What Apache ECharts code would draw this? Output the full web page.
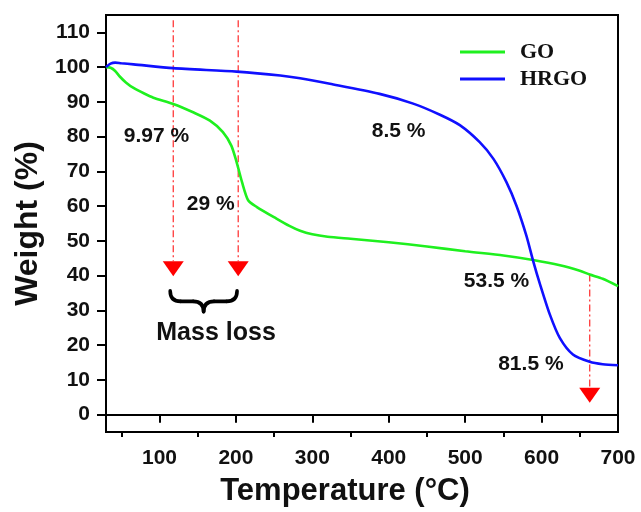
<!DOCTYPE html>
<html>
<head>
<meta charset="utf-8">
<script src="https://cdn.jsdelivr.net/npm/echarts@6/dist/echarts.min.js"></script>
<style>html,body{margin:0;padding:0;background:#fff;}#c{width:641px;height:512px;}</style>
</head>
<body>
<div id="c"></div>
<script>
// ---- data ----
const goTemp   = [30, 36, 42, 48, 56, 66, 80, 92, 118, 144, 166, 183, 194, 201, 208, 216, 227, 253, 270, 284, 300, 320, 350, 400, 450, 500, 550, 589, 624, 650, 663, 680, 700];
const goWeight = [100, 99.8, 98.9, 97.3, 95.6, 94.0, 92.4, 91.2, 89.4, 87.0, 84.6, 81.3, 77.4, 72.6, 66.9, 61.7, 59.8, 56.4, 54.3, 52.9, 51.9, 51.2, 50.6, 49.6, 48.4, 47.0, 45.8, 44.5, 43.0, 41.4, 40.3, 39.1, 37.0];
const hrgoTemp   = [30, 36, 42, 50, 66, 118, 201, 258, 284, 323, 388, 432, 467, 493, 519, 537, 554, 567, 580, 589, 598, 611, 624, 641, 663, 680, 700];
const hrgoWeight = [100, 101.0, 101.3, 101.1, 100.8, 99.7, 98.7, 97.6, 96.8, 95.2, 92.3, 89.5, 86.3, 83.3, 78.4, 73.6, 66.9, 60.2, 51.6, 44.2, 37.5, 28.7, 22.0, 17.3, 15.2, 14.5, 14.2];

const xTicks = [100, 200, 300, 400, 500, 600, 700];
const xMinorTicks = [50, 150, 250, 350, 450, 550, 650];
const yTicks = [0, 10, 20, 30, 40, 50, 60, 70, 80, 90, 100, 110];

const noteTexts = ['9.97 %', '29 %', '8.5 %', '53.5 %', '81.5 %', 'Mass loss'];
const noteX     = [96, 167, 413, 541, 586, 174];
const noteY     = [80.2, 60.5, 81.7, 38.3, 14.4, 23.4];

const arrowX   = [118, 203, 663];
const arrowTop = [113.5, 113.5, 40.3];
const arrowTip = [39.8, 39.8, 3.4];

const braceFrom = 114, braceTo = 201.5, braceTopY = 35.6, braceCuspY = 29.6;

// ---- build ----
const zip = (a, b) => a.map((v, i) => [v, b[i]]);
const SANS = '"Liberation Sans", Arial, sans-serif';

const chart = echarts.init(document.getElementById('c'), null, {renderer: 'canvas'});
chart.setOption({
  animation: false,
  backgroundColor: '#fff',
  grid: {left: 106, right: 23, top: 15, bottom: 78, show: true, borderColor: '#000', borderWidth: 2},
  legend: {
    orient: 'vertical', left: 455, top: 36, itemWidth: 45, itemHeight: 3, itemGap: 5,
    icon: 'rect',
    data: [{name: 'GO', itemStyle: {color: '#1ff01f'}}, {name: 'HRGO', itemStyle: {color: '#1010ff'}}],
    textStyle: {fontFamily: '"Liberation Serif", "Times New Roman", serif', fontWeight: 'bold', fontSize: 22, lineHeight: 22, color: '#111', padding: [0, 0, 0, 10]}
  },
  xAxis: [{
    type: 'value', min: 30, max: 700,
    name: 'Temperature (°C)', nameLocation: 'middle', nameGap: 44,
    nameTextStyle: {fontFamily: SANS, fontWeight: 'bold', fontSize: 31, color: '#111', padding: [0, 34, 0, 0]},
    axisLine: {show: true, lineStyle: {color: '#000', width: 2}},
    axisTick: {show: true, inside: false, length: 8, lineStyle: {color: '#000', width: 2}, customValues: xTicks},
    axisLabel: {show: true, margin: 16, fontFamily: SANS, fontWeight: 'bold', fontSize: 21, color: '#111', customValues: xTicks},
    splitLine: {show: false}
  }, {
    type: 'value', min: 30, max: 700, position: 'bottom',
    axisLine: {show: false},
    axisTick: {show: true, inside: false, length: 5, lineStyle: {color: '#000', width: 2}, customValues: xMinorTicks},
    axisLabel: {show: false},
    splitLine: {show: false}
  }],
  yAxis: {
    type: 'value', min: -5, max: 115,
    name: 'Weight (%)', nameLocation: 'middle', nameGap: 62,
    nameTextStyle: {fontFamily: SANS, fontWeight: 'bold', fontSize: 32, color: '#111'},
    axisLine: {show: true, lineStyle: {color: '#000', width: 2}},
    axisTick: {show: true, inside: false, length: 9, lineStyle: {color: '#000', width: 2}, customValues: yTicks},
    axisLabel: {show: true, margin: 16, fontFamily: SANS, fontWeight: 'bold', fontSize: 21, color: '#111', customValues: yTicks},
    splitLine: {show: false}
  },
  series: [
    {name: 'GO', type: 'line', data: zip(goTemp, goWeight), symbol: 'none', smooth: 0.25,
     lineStyle: {color: '#1ff01f', width: 2.6}, itemStyle: {color: '#1ff01f'}, z: 3},
    {name: 'HRGO', type: 'line', data: zip(hrgoTemp, hrgoWeight), symbol: 'none', smooth: 0.25,
     lineStyle: {color: '#1010ff', width: 2.6}, itemStyle: {color: '#1010ff'}, z: 4},
    {type: 'custom', coordinateSystem: 'cartesian2d', silent: true, z: 2,
     data: arrowX.map((x, i) => [x, arrowTop[i], arrowTip[i]]),
     renderItem: function (params, api) {
       const top = api.coord([api.value(0), api.value(1)]);
       const tip = api.coord([api.value(0), api.value(2)]);
       const x = top[0];
       return {type: 'group', children: [
         {type: 'line', shape: {x1: x, y1: top[1], x2: x, y2: tip[1] - 15},
          style: {stroke: '#ff2a2a', lineWidth: 1.2, lineDash: [7, 3, 2, 3]}},
         {type: 'polygon', shape: {points: [[x - 10.5, tip[1] - 15], [x + 10.5, tip[1] - 15], [x, tip[1]]]},
          style: {fill: '#ff0000'}}
       ]};
     }},
    {type: 'custom', coordinateSystem: 'cartesian2d', silent: true, z: 5,
     data: [[braceFrom, braceTopY, braceTo, braceCuspY]],
     renderItem: function (params, api) {
       const a = api.coord([api.value(0), api.value(1)]);
       const b = api.coord([api.value(2), api.value(3)]);
       const L = a[0], R = b[0], T = a[1], B = b[1];
       const M = (T + B) / 2, C = (L + R) / 2, r = (B - T) / 2;
       const st = {stroke: '#000', lineWidth: 3.6, fill: null, lineCap: 'round'};
       return {type: 'group', children: [
         {type: 'bezierCurve', shape: {x1: L, y1: T, x2: L + r, y2: M, cpx1: L, cpy1: M}, style: st},
         {type: 'line', shape: {x1: L + r, y1: M, x2: C - r, y2: M}, style: st},
         {type: 'bezierCurve', shape: {x1: C - r, y1: M, x2: C, y2: B, cpx1: C, cpy1: M}, style: st},
         {type: 'bezierCurve', shape: {x1: C, y1: B, x2: C + r, y2: M, cpx1: C, cpy1: M}, style: st},
         {type: 'line', shape: {x1: C + r, y1: M, x2: R - r, y2: M}, style: st},
         {type: 'bezierCurve', shape: {x1: R - r, y1: M, x2: R, y2: T, cpx1: R, cpy1: M}, style: st}
       ]};
     }},
    {type: 'custom', coordinateSystem: 'cartesian2d', silent: true, z: 6,
     data: noteX.map((x, i) => [x, noteY[i], i]),
     renderItem: function (params, api) {
       const p = api.coord([api.value(0), api.value(1)]);
       const i = api.value(2);
       const big = noteTexts[i] === 'Mass loss';
       return {type: 'text', x: p[0], y: p[1], style: {
         text: noteTexts[i], fill: '#111', align: 'center', verticalAlign: 'middle',
         font: 'bold ' + (big ? 25 : 21) + 'px ' + SANS}};
     }}
  ]
});
</script>
</body>
</html>
